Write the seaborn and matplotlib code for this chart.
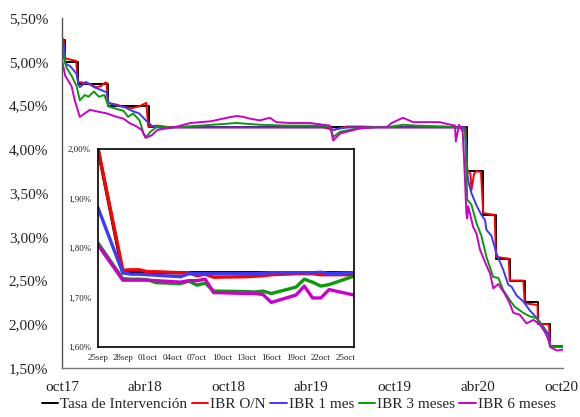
import matplotlib
matplotlib.use("Agg")
import pandas as pd
import numpy as np
import seaborn as sns
import matplotlib.pyplot as plt
from matplotlib.ticker import FuncFormatter

# ---- datos gráfico principal ----
tasa_fechas = ["2017-10-23", "2017-10-30", "2017-11-27", "2018-02-01", "2018-05-02",
               "2020-03-30", "2020-05-04", "2020-06-01", "2020-07-01", "2020-08-03",
               "2020-09-01", "2020-09-28", "2020-10-26"]
tasa_vals = [5.25, 5.00, 4.75, 4.50, 4.25, 3.75, 3.25, 2.75, 2.50, 2.25, 2.00, 1.75, 1.75]

on_fechas = ["2017-10-23", "2017-10-27", "2017-10-30", "2017-11-06", "2017-11-14", "2017-11-23",
             "2017-11-27", "2017-12-11", "2017-12-26", "2018-01-05", "2018-01-16", "2018-01-25",
             "2018-01-29", "2018-01-31", "2018-02-20", "2018-03-10", "2018-03-25", "2018-04-10",
             "2018-04-22", "2018-04-26", "2018-04-30", "2018-05-20", "2018-06-20", "2018-09-15",
             "2019-01-15", "2019-05-19", "2019-06-10", "2019-07-10", "2019-08-08", "2019-10-15",
             "2020-01-15", "2020-03-26", "2020-03-30", "2020-04-06", "2020-04-08", "2020-04-14",
             "2020-04-19", "2020-04-29", "2020-05-04", "2020-05-29", "2020-06-01", "2020-06-29",
             "2020-07-01", "2020-07-31", "2020-08-03", "2020-08-31", "2020-09-01", "2020-09-20",
             "2020-09-25", "2020-09-28", "2020-10-26"]
on_vals = [5.28, 5.24, 5.04, 5.03, 5.02, 5.01,
           4.77, 4.76, 4.74, 4.71, 4.72, 4.76,
           4.76, 4.53, 4.51, 4.48, 4.47, 4.49,
           4.52, 4.53, 4.26, 4.27, 4.25, 4.25,
           4.25, 4.25, 4.22, 4.26, 4.26, 4.25,
           4.25, 4.25, 3.76, 3.72, 3.53, 3.72,
           3.75, 3.74, 3.27, 3.25, 2.77, 2.75,
           2.50, 2.50, 2.24, 2.22, 2.00, 2.00,
           2.00, 1.75, 1.75]

m1_fechas = ["2017-10-23", "2017-10-27", "2017-10-30", "2017-11-10", "2017-11-18", "2017-11-24",
             "2017-11-28", "2017-12-01", "2017-12-15", "2018-01-01", "2018-01-20", "2018-01-29",
             "2018-02-02", "2018-02-20", "2018-03-10", "2018-03-25", "2018-04-10", "2018-04-25",
             "2018-05-10", "2018-06-01", "2018-07-01", "2019-06-03", "2019-06-10", "2019-06-25",
             "2019-07-15", "2020-03-25", "2020-03-27", "2020-03-30", "2020-04-01", "2020-04-08",
             "2020-04-19", "2020-04-30", "2020-05-08", "2020-05-11", "2020-05-22", "2020-06-02",
             "2020-06-17", "2020-06-28", "2020-07-05", "2020-07-16", "2020-07-31", "2020-08-14",
             "2020-09-02", "2020-09-13", "2020-09-25", "2020-09-28", "2020-10-26"]
m1_vals = [5.22, 5.20, 4.98, 4.95, 4.90, 4.86,
           4.74, 4.71, 4.77, 4.71, 4.67, 4.65,
           4.53, 4.50, 4.48, 4.44, 4.41, 4.33,
           4.26, 4.24, 4.25, 4.25, 4.22, 4.24,
           4.25, 4.25, 4.10, 3.76, 3.64, 3.50,
           3.36, 3.25, 3.19, 3.08, 3.01, 2.81,
           2.62, 2.45, 2.43, 2.33, 2.26, 2.16,
           2.05, 1.97, 1.88, 1.75, 1.75]

m3_fechas = ["2017-10-23", "2017-10-27", "2017-11-02", "2017-11-13", "2017-11-24", "2017-12-01",
             "2017-12-12", "2017-12-20", "2018-01-01", "2018-01-12", "2018-01-24", "2018-02-02",
             "2018-02-20", "2018-03-07", "2018-03-17", "2018-03-28", "2018-04-11", "2018-04-20",
             "2018-04-26", "2018-05-05", "2018-05-20", "2018-06-15", "2018-08-22", "2018-11-10",
             "2018-12-31", "2019-03-01", "2019-05-19", "2019-06-03", "2019-06-10", "2019-06-25",
             "2019-07-25", "2019-09-01", "2019-10-16", "2019-11-11", "2019-12-10", "2020-02-14",
             "2020-03-20", "2020-03-25", "2020-03-30", "2020-04-08", "2020-04-19", "2020-04-30",
             "2020-05-11", "2020-05-26", "2020-06-06", "2020-06-17", "2020-07-01", "2020-07-12",
             "2020-07-31", "2020-08-14", "2020-08-29", "2020-09-13", "2020-09-25", "2020-09-28",
             "2020-10-26"]
m3_vals = [5.16, 5.05, 4.93, 4.84, 4.72, 4.56,
           4.62, 4.60, 4.66, 4.60, 4.62, 4.49,
           4.46, 4.44, 4.37, 4.41, 4.33, 4.18,
           4.14, 4.20, 4.26, 4.25, 4.27, 4.30,
           4.28, 4.27, 4.27, 4.26, 4.14, 4.20,
           4.23, 4.25, 4.26, 4.28, 4.27, 4.26,
           4.24, 4.20, 3.42, 3.37, 3.16, 3.01,
           2.77, 2.54, 2.53, 2.39, 2.28, 2.20,
           2.13, 2.09, 2.07, 1.96, 1.81, 1.74,
           1.74]

m6_fechas = ["2017-10-23", "2017-10-30", "2017-11-13", "2017-11-20", "2017-12-01", "2017-12-12",
             "2017-12-23", "2018-01-10", "2018-01-29", "2018-02-20", "2018-03-07", "2018-03-20",
             "2018-04-05", "2018-04-16", "2018-04-24", "2018-05-08", "2018-05-20", "2018-06-10",
             "2018-07-02", "2018-08-01", "2018-09-15", "2018-10-20", "2018-11-10", "2018-11-25",
             "2018-12-09", "2018-12-31", "2019-01-22", "2019-02-05", "2019-03-07", "2019-04-20",
             "2019-05-19", "2019-06-03", "2019-06-10", "2019-06-25", "2019-07-17", "2019-08-08",
             "2019-09-15", "2019-10-05", "2019-10-16", "2019-11-10", "2019-12-02", "2020-01-30",
             "2020-02-14", "2020-03-03", "2020-03-05", "2020-03-12", "2020-03-20", "2020-03-25",
             "2020-03-28", "2020-03-30", "2020-04-01", "2020-04-12", "2020-04-19", "2020-04-27",
             "2020-05-08", "2020-05-19", "2020-05-26", "2020-06-06", "2020-06-20", "2020-07-01",
             "2020-07-09", "2020-07-23", "2020-08-07", "2020-08-22", "2020-09-05", "2020-09-20",
             "2020-09-25", "2020-09-28", "2020-10-12", "2020-10-26"]
m6_vals = [5.02, 4.84, 4.72, 4.56, 4.37, 4.41,
           4.45, 4.43, 4.41, 4.37, 4.35, 4.30,
           4.26, 4.22, 4.13, 4.16, 4.22, 4.24,
           4.26, 4.30, 4.32, 4.36, 4.38, 4.37,
           4.35, 4.33, 4.36, 4.31, 4.30, 4.30,
           4.28, 4.27, 4.10, 4.18, 4.21, 4.24,
           4.25, 4.25, 4.30, 4.36, 4.31, 4.31,
           4.29, 4.27, 4.09, 4.28, 4.20, 3.65,
           3.27, 3.21, 3.35, 3.11, 3.04, 2.85,
           2.71, 2.58, 2.41, 2.46, 2.35, 2.24,
           2.13, 2.11, 2.01, 2.05, 2.00, 1.88,
           1.81, 1.74, 1.70, 1.71]

x_ticks = ["2017-10-23", "2018-04-23", "2018-10-23", "2019-04-23", "2019-10-23", "2020-04-23", "2020-10-23"]
x_labels = ["oct17", "abr18", "oct18", "abr19", "oct19", "abr20", "oct20"]

# ---- datos recuadro (zoom sep-oct 2020) ----
zoom_fechas = ["2020-09-25", "2020-09-28", "2020-09-29", "2020-09-30", "2020-10-01", "2020-10-02",
               "2020-10-05", "2020-10-06", "2020-10-07", "2020-10-08", "2020-10-09", "2020-10-13",
               "2020-10-14", "2020-10-15", "2020-10-16", "2020-10-19", "2020-10-20", "2020-10-21",
               "2020-10-22", "2020-10-23", "2020-10-26"]
zoom_tasa = [2.00] + [1.75] * 20
zoom_on = [2.000, 1.755, 1.756, 1.756, 1.752, 1.752, 1.750, 1.750, 1.744, 1.747, 1.741,
           1.742, 1.743, 1.744, 1.746, 1.748, 1.748, 1.748, 1.746, 1.746, 1.746]
zoom_1m = [1.881, 1.750, 1.747, 1.747, 1.746, 1.745, 1.742, 1.748, 1.748, 1.748, 1.748,
           1.748, 1.748, 1.749, 1.750, 1.750, 1.750, 1.750, 1.751, 1.748, 1.750]
zoom_3m = [1.810, 1.738, 1.737, 1.737, 1.736, 1.730, 1.728, 1.733, 1.725, 1.729, 1.713,
           1.712, 1.711, 1.713, 1.708, 1.721, 1.737, 1.731, 1.723, 1.726, 1.743]
zoom_6m = [1.806, 1.735, 1.735, 1.735, 1.735, 1.734, 1.731, 1.734, 1.734, 1.737, 1.710,
           1.708, 1.708, 1.706, 1.690, 1.705, 1.723, 1.699, 1.699, 1.716, 1.705]
zoom_ticks = ["2020-09-25", "2020-09-28", "2020-10-01", "2020-10-04", "2020-10-07", "2020-10-10",
              "2020-10-13", "2020-10-16", "2020-10-19", "2020-10-22", "2020-10-25"]
zoom_labels = ["25sep", "28sep", "01oct", "04oct", "07oct", "10oct",
               "13oct", "16oct", "19oct", "22oct", "25oct"]

nombres = ["Tasa de Intervención", "IBR O/N", "IBR 1 mes", "IBR 3 meses", "IBR 6 meses"]
colores = ["#000000", "#FF0000", "#3A3AFF", "#0A9A0A", "#CC00CC"]

sns.set_style("white")
plt.rcParams["font.family"] = "serif"
plt.rcParams["font.serif"] = ["Liberation Serif", "Times New Roman", "DejaVu Serif"]

pct = FuncFormatter(lambda v, p: f"{v:.2f}%".replace(".", ","))

fig = plt.figure(figsize=(5.8, 4.17), dpi=100)
ax = fig.add_axes([0.1069, 0.1175, 0.8638, 0.8393])

main = [(tasa_fechas, tasa_vals), (on_fechas, on_vals), (m1_fechas, m1_vals),
        (m3_fechas, m3_vals), (m6_fechas, m6_vals)]
for i, (f, v) in enumerate(main):
    kw = {"drawstyle": "steps-post"} if i == 0 else {}
    sns.lineplot(x=pd.to_datetime(f), y=v, color=colores[i], lw=1.4, ax=ax,
                 label=nombres[i], estimator=None, **kw)

handles, labels = ax.get_legend_handles_labels()
ax.get_legend().remove()

ax.set_xlim(pd.Timestamp("2017-10-23"), pd.Timestamp("2020-10-26"))
ax.set_ylim(1.5, 5.5)
ax.set_yticks(np.arange(1.5, 5.51, 0.5))
ax.yaxis.set_major_formatter(pct)
ax.set_xticks(pd.to_datetime(x_ticks))
ax.set_xticklabels(x_labels)
ax.tick_params(axis="y", length=0, labelsize=11, pad=10, labelcolor="#222222")
ax.tick_params(axis="x", length=0, labelsize=11, pad=9, labelcolor="#222222")
ax.set_xlabel("")
ax.set_ylabel("")
for s in ["top", "right"]:
    ax.spines[s].set_visible(False)
ax.spines["left"].set_color("#555555")
ax.spines["bottom"].set_color("#777777")
ax.spines["left"].set_linewidth(1.0)
ax.spines["bottom"].set_linewidth(1.0)

# recuadro
axin = fig.add_axes([0.169, 0.1679, 0.441, 0.4748])
axin.set_facecolor("white")
zf = pd.to_datetime(zoom_fechas)
for i, v in enumerate([zoom_tasa, zoom_on, zoom_1m, zoom_3m, zoom_6m]):
    sns.lineplot(x=zf, y=v, color=colores[i], lw=2.4, ax=axin, estimator=None)
axin.set_xlim(pd.Timestamp("2020-09-25"), pd.Timestamp("2020-10-26"))
axin.set_ylim(1.6, 2.0)
axin.set_yticks(np.arange(1.6, 2.01, 0.1))
axin.yaxis.set_major_formatter(pct)
axin.set_xticks(pd.to_datetime(zoom_ticks))
axin.set_xticklabels(zoom_labels)
axin.tick_params(length=0, labelsize=6.5, pad=5, labelcolor="#222222")
axin.set_xlabel("")
axin.set_ylabel("")
for s in axin.spines.values():
    s.set_visible(True)
    s.set_color("black")
    s.set_linewidth(1.2)

fig.legend(handles, labels, loc="center", bbox_to_anchor=(0.515, 0.03), ncol=5,
           frameon=False, fontsize=11, handlelength=1.1, handletextpad=0.1,
           columnspacing=0.3, borderaxespad=0)

fig.savefig("out.png", dpi=100, facecolor="white")
